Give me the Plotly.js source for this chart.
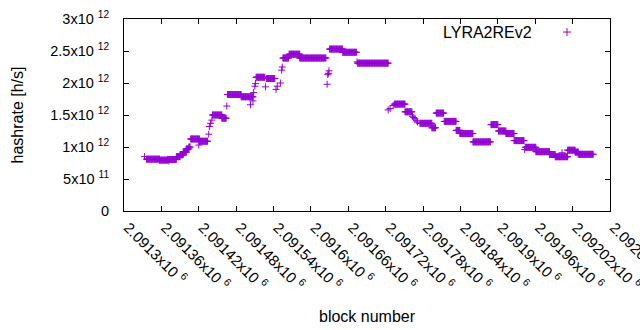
<!DOCTYPE html>
<html>
<head>
<meta charset="utf-8">
<script src="https://cdn.plot.ly/plotly-3.0.1.min.js"></script>
<style>html,body{margin:0;padding:0;background:#fff;}#chart{width:640px;height:330px;}</style>
</head>
<body>
<div id="chart"></div>
<script>
// Runs of blocks sharing the same hashrate estimate (first block, last block, hashrate h/s)
const runStart = [2091336,2091357,2091370,2091384,2091390,2091395,2091400,2091404,2091407,2091421,
  2091442,2091457,2091466,2091488,2091512,2091529,2091555,2091565,2091582,2091630,
  2091651,2091675,2091734,2091751,2091775,2091794,2091801,2091814,2091833,2091839,
  2091860,2091889,2091901,2091913,2091926,2091944,2091961,2091983,2091992,2092012,
  2092024,2092029];
const runEnd = [2091357,2091370,2091384,2091390,2091395,2091400,2091404,2091406,2091421,2091434,
  2091457,2091464,2091488,2091507,2091526,2091542,2091564,2091582,2091624,2091651,
  2091673,2091724,2091751,2091762,2091794,2091800,2091813,2091833,2091839,2091860,
  2091888,2091900,2091913,2091926,2091942,2091961,2091983,2091992,2092012,2092024,
  2092029,2092053];
const runRate = [8.1e11,7.95e11,8.05e11,8.5e11,8.8e11,9.2e11,9.7e11,1.0e12,1.125e12,1.09e12,
  1.5e12,1.45e12,1.82e12,1.785e12,2.09e12,2.07e12,2.39e12,2.45e12,2.39e12,2.53e12,
  2.48e12,2.31e12,1.67e12,1.55e12,1.37e12,1.30e12,1.53e12,1.40e12,1.26e12,1.21e12,
  1.08e12,1.35e12,1.25e12,1.21e12,1.10e12,9.95e11,9.27e11,8.83e11,8.48e11,9.5e11,
  9.2e11,8.86e11];
// Individual blocks that stand apart from the runs
const ptBlock = [2091333,2091372,2091420,2091436,2091437,2091439,2091441,2091465,2091503,2091507,
  2091508,2091510,2091511,2091527,2091544,2091546,2091551,2091553,2091554,2091626,
  2091627,2091628,2091629,2091674,2091724,2091727,2091732,2091763,2091765,2091767,
  2091769,2091771,2091943,2092003];
const ptRate = [8.5e11,7.8e11,1.03e12,1.2e12,1.32e12,1.37e12,1.42e12,1.64e12,1.66e12,1.72e12,
  1.85e12,1.95e12,1.99e12,1.94e12,1.9e12,1.95e12,2.0e12,2.2e12,2.25e12,1.98e12,
  2.13e12,2.15e12,2.19e12,2.33e12,1.58e12,1.6e12,1.65e12,1.48e12,1.46e12,1.44e12,
  1.41e12,1.39e12,9.6e11,9.1e11];

const xTickVals = [2091300,2091360,2091420,2091480,2091540,2091600,2091660,2091720,2091780,2091840,2091900,2091960,2092020,2092080];
const xTickText = ['2.0913x10 <sup>6</sup>','2.09136x10 <sup>6</sup>','2.09142x10 <sup>6</sup>','2.09148x10 <sup>6</sup>',
  '2.09154x10 <sup>6</sup>','2.0916x10 <sup>6</sup>','2.09166x10 <sup>6</sup>','2.09172x10 <sup>6</sup>',
  '2.09178x10 <sup>6</sup>','2.09184x10 <sup>6</sup>','2.0919x10 <sup>6</sup>','2.09196x10 <sup>6</sup>',
  '2.09202x10 <sup>6</sup>','2.09208x10 <sup>6</sup>'];
const yTickVals = [0,5e11,1e12,1.5e12,2e12,2.5e12,3e12];
const yTickText = ['0','5x10 <sup>11</sup>','1x10 <sup>12</sup>','1.5x10 <sup>12</sup>','2x10 <sup>12</sup>','2.5x10 <sup>12</sup>','3x10 <sup>12</sup>'];
const seriesName = 'LYRA2REv2';
const xTitle = 'block number';
const yTitle = 'hashrate [h/s]';

const xs = [], ys = [];
for (let i = 0; i < runStart.length; i++) {
  for (let b = runStart[i]; b <= runEnd[i]; b++) { xs.push(b); ys.push(runRate[i]); }
}
for (let i = 0; i < ptBlock.length; i++) { xs.push(ptBlock[i]); ys.push(ptRate[i]); }

const purple = '#9400d3';
const font = 'Liberation Sans, Arial, sans-serif';

const trace = {
  type: 'scatter', mode: 'markers', x: xs, y: ys, name: seriesName, showlegend: false,
  marker: {symbol: 'cross-thin-open', size: 5, color: purple, line: {width: 1, color: purple}}
};

const axisCommon = {
  showline: true, linecolor: '#000', linewidth: 1, mirror: 'ticks',
  ticks: 'inside', ticklen: 5, tickcolor: '#000', tickwidth: 1,
  showgrid: false, zeroline: false, tickmode: 'array', ticklabeloverflow: 'allow'
};

const layout = {
  width: 640, height: 330,
  margin: {l: 124, r: 30, t: 19, b: 119},
  paper_bgcolor: '#fff', plot_bgcolor: '#fff',
  showlegend: false,
  xaxis: Object.assign({}, axisCommon, {
    range: [2091300, 2092080], tickvals: xTickVals, ticktext: xTickText, tickangle: 45,
    tickfont: {family: font, size: 15, color: '#000'},
    ticklabelstandoff: 1, ticklabelshift: 4,
    automargin: false
  }),
  yaxis: Object.assign({}, axisCommon, {
    range: [0, 3e12], tickvals: yTickVals, ticktext: yTickText, ticklabelstandoff: 11,
    tickfont: {family: font, size: 14.5, color: '#000'},
    automargin: 'width',
    title: {text: yTitle, standoff: 22, font: {family: font, size: 16, color: '#000'}}
  }),
  annotations: [{
    xref: 'paper', yref: 'paper', x: 0.5, y: -0.547, xanchor: 'center', yanchor: 'middle',
    text: xTitle, showarrow: false, font: {family: font, size: 16, color: '#000'}
  }, {
    xref: 'paper', yref: 'paper', x: 0.8436, y: 0.932, xanchor: 'right', yanchor: 'middle',
    text: seriesName, showarrow: false, font: {family: font, size: 16, color: '#000'}
  }],
  shapes: [{
    type: 'path', xref: 'paper', yref: 'paper', xsizemode: 'pixel', ysizemode: 'pixel',
    xanchor: 0.9115, yanchor: 0.932, path: 'M-4,0H4M0,-4V4',
    line: {color: purple, width: 1}
  }]
};

Plotly.newPlot('chart', [trace], layout, {staticPlot: true, displayModeBar: false});
</script>
</body>
</html>
